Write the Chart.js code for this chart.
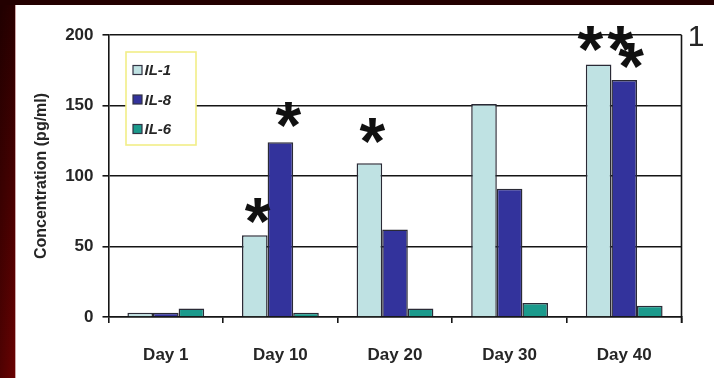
<!DOCTYPE html>
<html>
<head>
<meta charset="utf-8">
<script src="https://cdn.jsdelivr.net/npm/chart.js@4.4.1/dist/chart.umd.min.js"></script>
<style>
  html, body { margin: 0; padding: 0; background: #fff; overflow: hidden; }
  #wrap { width: 714px; height: 378px; position: relative; }
</style>
</head>
<body>
<div id="wrap"><canvas id="c" width="714" height="378"></canvas></div>
<script>
// Cytokine concentrations (pg/ml) by day
const days = ['Day 1', 'Day 10', 'Day 20', 'Day 30', 'Day 40'];
const il1 = [3, 58, 109, 151, 179];
const il8 = [3, 124, 62, 91, 168];
const il6 = [6, 3, 6, 10, 8];
const seriesNames = ['IL-1', 'IL-8', 'IL-6'];
const yTicks = [0, 50, 100, 150, 200];
const panelLabel = '1';
// significance marks: [series index, day index, mark]
const marks = [[0, 1, '*'], [1, 1, '*'], [0, 2, '*'], [0, 4, '**'], [1, 4, '*']];

const colors = ['#bfe2e3', '#33339c', '#1b9a8c'];
const textColor = '#262626';
const lineColor = '#151515';
const fontFamily = '"Liberation Sans", Arial, sans-serif';

// dark maroon frame around the white panel
const framePlugin = {
  id: 'frame',
  beforeDraw(chart) {
    const { ctx, width, height } = chart;
    ctx.save();
    ctx.fillStyle = '#ffffff';
    ctx.fillRect(0, 0, width, height);
    const g = ctx.createLinearGradient(0, 0, 0, height);
    g.addColorStop(0, '#2a0000');
    g.addColorStop(1, '#6a0202');
    ctx.fillStyle = g;
    ctx.fillRect(0, 0, 15, height);
    const h = ctx.createLinearGradient(0, 0, 15, 0);
    h.addColorStop(0, 'rgba(0,0,0,0.25)');
    h.addColorStop(1, 'rgba(0,0,0,0)');
    ctx.fillStyle = h;
    ctx.fillRect(0, 0, 15, height);
    ctx.fillStyle = '#230000';
    ctx.fillRect(0, 0, width, 5);
    ctx.fillStyle = 'rgba(160,80,80,0.5)';
    ctx.fillRect(15, 5, 1, height - 5);
    ctx.restore();
  }
};

// right border of the plot, legend box, significance asterisks, panel number
const overlayPlugin = {
  id: 'overlay',
  afterDatasetsDraw(chart) {
    const { ctx, chartArea: a } = chart;
    ctx.save();
    // right border
    ctx.strokeStyle = lineColor;
    ctx.lineWidth = 1.6;
    ctx.beginPath();
    ctx.moveTo(a.right, a.top);
    ctx.lineTo(a.right, a.bottom + 6);
    ctx.stroke();

    // legend
    const lx = a.left + 17.5, ly = a.top + 17, lw = 70, lh = 93;
    ctx.fillStyle = '#ffffff';
    ctx.fillRect(lx, ly, lw, lh);
    ctx.strokeStyle = '#f2ee88';
    ctx.lineWidth = 1.6;
    ctx.strokeRect(lx, ly, lw, lh);
    ctx.font = 'italic bold 15px ' + fontFamily;
    ctx.textBaseline = 'middle';
    ctx.textAlign = 'left';
    chart.data.datasets.forEach((ds, i) => {
      const cy = ly + 18 + i * 29.5;
      ctx.fillStyle = ds.backgroundColor;
      ctx.fillRect(lx + 7, cy - 4.5, 9, 9);
      ctx.strokeStyle = '#333344';
      ctx.lineWidth = 1.2;
      ctx.strokeRect(lx + 7, cy - 4.5, 9, 9);
      ctx.fillStyle = textColor;
      ctx.fillText(ds.label, lx + 18.5, cy + 1);
    });

    // asterisks above bars
    const offsets = { '0,1': [3, -25], '1,1': [8, -28], '0,2': [3, -33], '0,4': [7, -26], '1,4': [7, -25] };
    ctx.font = 'bold 66px ' + fontFamily;
    ctx.fillStyle = '#111111';
    ctx.textAlign = 'left';
    ctx.textBaseline = 'alphabetic';
    const m = ctx.measureText('*');
    const gw = m.actualBoundingBoxRight + m.actualBoundingBoxLeft;
    const asc = m.actualBoundingBoxAscent, desc = m.actualBoundingBoxDescent;
    marks.forEach(([s, d, txt]) => {
      const bar = chart.getDatasetMeta(s).data[d];
      const off = offsets[s + ',' + d] || [0, -27];
      const cx = bar.x + off[0];
      const cy = bar.y + off[1];
      const n = txt.length, gap = 30;
      for (let k = 0; k < n; k++) {
        const gx = cx + (k - (n - 1) / 2) * gap;
        ctx.fillText('*', gx - gw / 2 + m.actualBoundingBoxLeft, cy + (asc - desc) / 2);
      }
    });

    // panel number
    ctx.font = '30px ' + fontFamily;
    ctx.fillStyle = textColor;
    ctx.textAlign = 'center';
    ctx.textBaseline = 'alphabetic';
    ctx.fillText(panelLabel, 696, 46);
    ctx.restore();
  }
};

const series = [il1, il8, il6];
new Chart(document.getElementById('c'), {
  type: 'bar',
  data: {
    labels: days,
    datasets: series.map((vals, i) => ({
      label: seriesNames[i],
      data: vals,
      backgroundColor: colors[i],
      borderColor: '#2a2a36',
      borderWidth: 1.5,
      categoryPercentage: 0.67,
      barPercentage: 1.0
    }))
  },
  options: {
    responsive: false,
    animation: false,
    events: [],
    layout: { padding: { top: 35, right: 32.5, left: 0, bottom: 0 } },
    plugins: { legend: { display: false }, tooltip: { enabled: false } },
    scales: {
      x: {
        afterFit(scale) { scale.height = 61; },
        grid: { offset: true, drawOnChartArea: false, drawTicks: true, tickLength: 6, color: lineColor, lineWidth: 1.6 },
        border: { color: lineColor, width: 1.6 },
        ticks: { color: textColor, padding: 22, font: { family: fontFamily, size: 17, weight: 'bold' } }
      },
      y: {
        min: 0,
        max: 200,
        afterFit(scale) { scale.width = 108.5; },
        afterBuildTicks(scale) { scale.ticks = yTicks.map(v => ({ value: v })); },
        grid: { color: lineColor, lineWidth: 1.6, tickLength: 6, drawTicks: true },
        border: { color: lineColor, width: 1.6 },
        ticks: { color: textColor, padding: 9, font: { family: fontFamily, size: 17, weight: 'bold' } },
        title: {
          display: true,
          text: 'Concentration (pg/ml)',
          color: textColor,
          padding: { top: 32, bottom: 0 },
          font: { family: fontFamily, size: 16, weight: 'bold' }
        }
      }
    }
  },
  plugins: [framePlugin, overlayPlugin]
});
</script>
</body>
</html>
